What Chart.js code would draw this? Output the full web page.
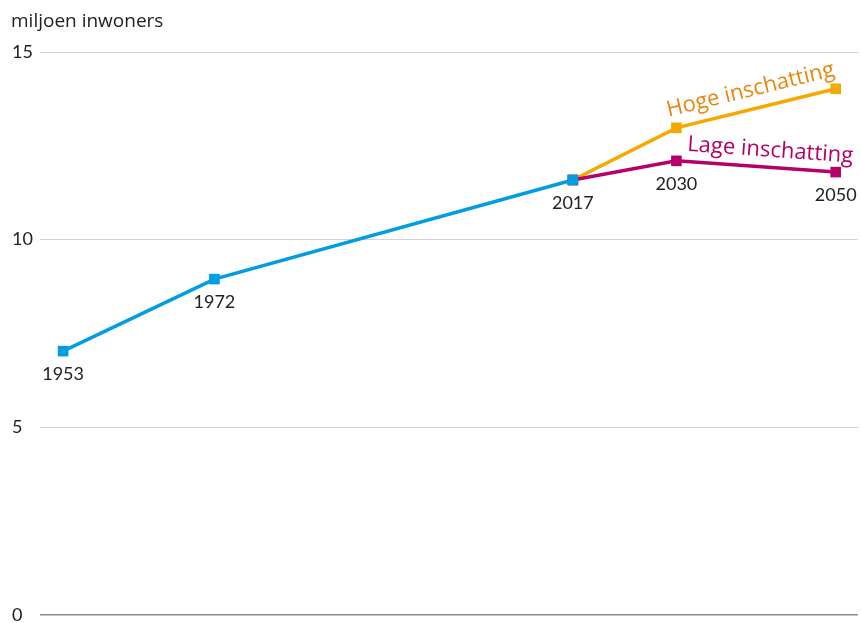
<!DOCTYPE html>
<html><head><meta charset="utf-8">
<script src="https://cdn.jsdelivr.net/npm/chart.js@4/dist/chart.umd.min.js"></script>
<style>html,body{margin:0;padding:0;background:#fff}#wrap{width:861px;height:623px}</style>
</head><body><div id="wrap"><canvas id="c" width="861" height="623"></canvas></div>
<script>
const years = [1953, 1972, 2017, 2030, 2050];
const historic = [7.03, 8.95, 11.59];
const historicYears = [1953, 1972, 2017];
const projYears = [2017, 2030, 2050];
const highEstimate = [11.59, 12.98, 14.02];
const lowEstimate = [11.59, 12.10, 11.80];
const yTicks = [0, 5, 10, 15];
const yTitle = 'miljoen inwoners';
const highLabel = 'Hoge inschatting';
const lowLabel = 'Lage inschatting';

const FONT = 'Lato';
const WFONT = '"Open Sans"';
const BLUE = '#009ee0', ORANGE = '#f5a800', MAGENTA = '#b5006a';

const toPts = (xs, ys) => xs.map((x, i) => ({x, y: ys[i]}));

const labelPlugin = {
  id: 'labels',
  afterDatasetsDraw(chart) {
    const c = chart.ctx, xs = chart.scales.x, ys = chart.scales.y;
    c.save();
    c.fillStyle = '#222';
    c.font = '19px ' + WFONT;
    c.textAlign = 'left'; c.textBaseline = 'middle';
    c.fillText(yTitle, 11, 22);
    c.font = '18px ' + FONT;
    c.textAlign = 'center'; c.textBaseline = 'middle';
    const all = [toPts(historicYears, historic), toPts(projYears, highEstimate), toPts(projYears, lowEstimate)].flat();
    years.forEach(yr => {
      const vals = all.filter(p => p.x === yr).map(p => p.y);
      const minV = Math.min(...vals);
      c.fillText(String(yr), xs.getPixelForValue(yr), ys.getPixelForValue(minV) + 23);
    });
    function seg(vals, text, color, off, shift) {
      const x1 = xs.getPixelForValue(projYears[1]), y1 = ys.getPixelForValue(vals[1]);
      const x2 = xs.getPixelForValue(projYears[2]), y2 = ys.getPixelForValue(vals[2]);
      const a = Math.atan2(y2 - y1, x2 - x1);
      const mx = (x1 + x2) / 2, my = (y1 + y2) / 2;
      c.save();
      c.translate(mx, my);
      c.rotate(a);
      c.fillStyle = color;
      c.font = '22px ' + WFONT;
      c.textAlign = 'center'; c.textBaseline = 'middle';
      c.fillText(text, shift, -off);
      c.restore();
    }
    seg(highEstimate, highLabel, '#e8870e', 19, -1);
    seg(lowEstimate, lowLabel, MAGENTA, 17, 13);
    c.restore();
  }
};

new Chart(document.getElementById('c'), {
  type: 'line',
  data: {
    datasets: [
      {data: toPts(historicYears, historic), borderColor: BLUE, backgroundColor: BLUE},
      {data: toPts(projYears, lowEstimate), borderColor: MAGENTA, backgroundColor: MAGENTA},
      {data: toPts(projYears, highEstimate), borderColor: ORANGE, backgroundColor: ORANGE}
    ].map(d => Object.assign(d, {borderWidth: 3.5, pointStyle: 'rect', pointRadius: 7.5, pointBorderWidth: 0, tension: 0, clip: false}))
  },
  options: {
    responsive: false, animation: false, devicePixelRatio: 1,
    layout: {autoPadding: false, padding: {left: 12, right: 3, top: 52, bottom: 8}},
    plugins: {legend: {display: false}, tooltip: {enabled: false}},
    scales: {
      x: {type: 'linear', min: 1950.1, max: 2052.8, display: false},
      y: {
        min: 0, max: 15,
        afterBuildTicks: s => { s.ticks = yTicks.map(v => ({value: v})); },
        afterFit: s => { s.width = 28; s.paddingTop = 0; s.paddingBottom = 0; s.paddingLeft = 0; s.paddingRight = 0; },
        border: {display: false},
        grid: {drawTicks: false, color: ctx => ctx.tick && ctx.tick.value === 0 ? '#8c8c8c' : '#d4d4d4', lineWidth: ctx => ctx.tick && ctx.tick.value === 0 ? 1.5 : 1},
        ticks: {crossAlign: 'far', padding: 0, color: '#222', font: {family: FONT, size: 18}}
      }
    }
  },
  plugins: [labelPlugin]
});
</script></body></html>
